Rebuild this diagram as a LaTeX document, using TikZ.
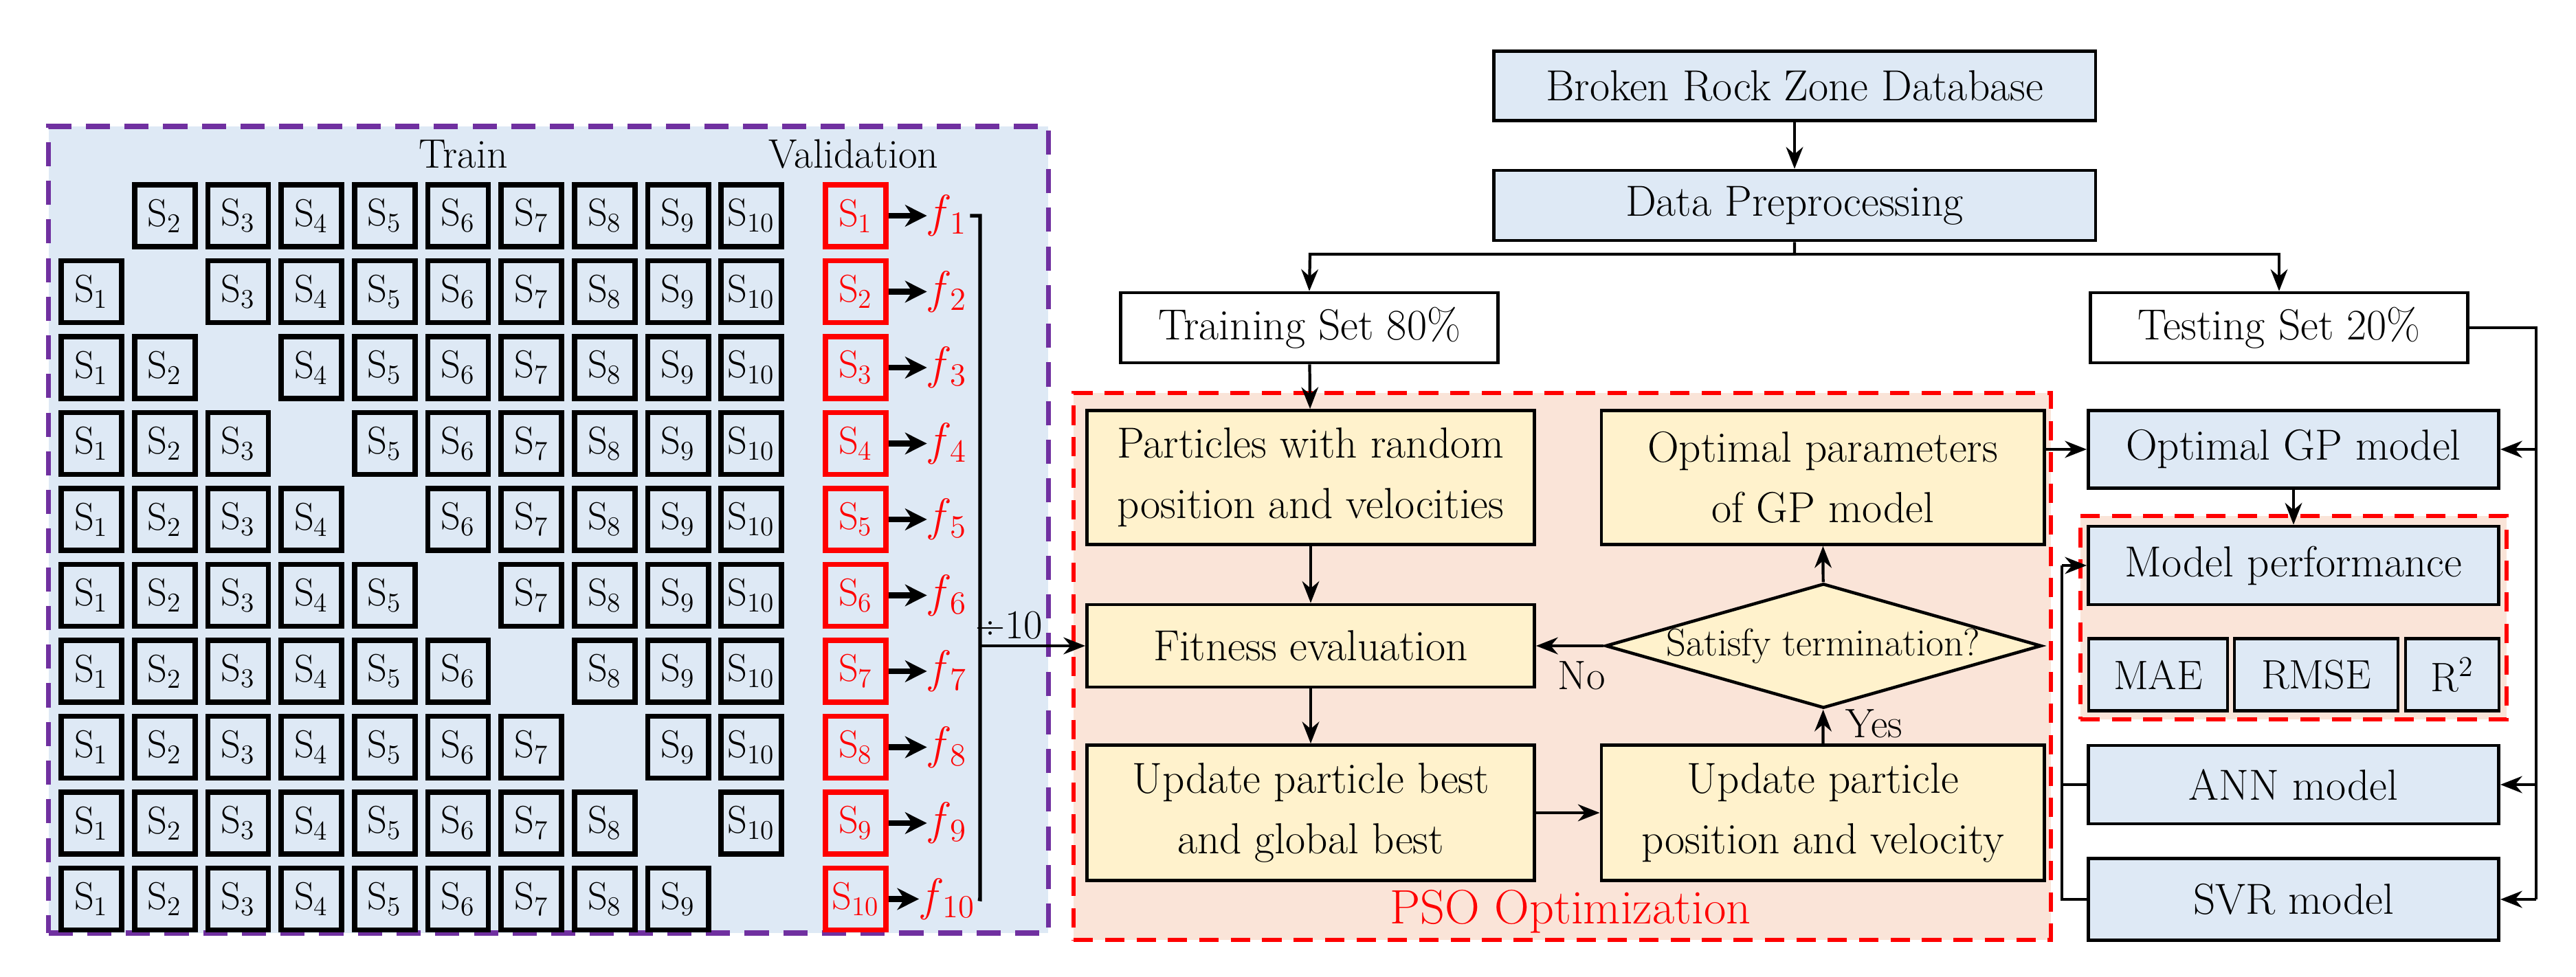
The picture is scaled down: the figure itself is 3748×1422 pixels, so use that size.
\documentclass[tikz,border=0pt]{standalone}
\usepackage{fontspec}
\setmainfont{Latin Modern Roman}
\usetikzlibrary{shapes.geometric,arrows.meta}
\definecolor{lb}{HTML}{DEE9F5}
\definecolor{yl}{HTML}{FFF2CC}
\definecolor{pk}{HTML}{FAE4D8}
\definecolor{pu}{HTML}{7030A0}
\begin{document}
\begin{tikzpicture}[x=0.01cm,y=-0.01cm,
  sb/.style={draw,line width=2.2pt,fill=lb,minimum width=0.88cm,minimum height=0.9cm,inner sep=0pt,font=\fontsize{16}{16}\selectfont},
  rb/.style={sb,draw=red,text=red},
  fl/.style={text=red,font=\fontsize{19}{19}\selectfont,inner sep=1pt},
  bb/.style={draw,line width=1.3pt,fill=lb,inner sep=0pt,font=\fontsize{18}{24}\selectfont,align=center},
  yb/.style={draw,line width=1.3pt,fill=yl,inner sep=0pt,font=\fontsize{18}{25}\selectfont,align=center},
  wb/.style={draw,line width=1.3pt,fill=white,inner sep=0pt,font=\fontsize{18}{24}\selectfont},
  ar/.style={-{Stealth[length=9pt,width=7pt]},line width=1.2pt},
  lbl/.style={font=\fontsize{17}{17}\selectfont}]
\useasboundingbox (0,0) rectangle (3748,1422);
% left panel
\node[draw=pu,dashed,dash pattern=on 10pt off 6pt,line width=2.2pt,fill=lb,minimum width=14.54cm,minimum height=11.74cm,inner sep=0pt] (cv) at (798,771) {};
\node[lbl] (train) at (674,224) {Train};
\node[lbl] (val) at (1242,224) {Validation};
\foreach \r in {1,...,10}{
  \pgfmathsetmacro{\yy}{314+(\r-1)*110.5}
  \foreach \c in {1,...,10}{
    \ifnum\c=\r\relax\else
      \pgfmathsetmacro{\xx}{133+(\c-1)*106.7}
      \node[sb] (s-\r-\c) at (\xx,\yy) {S\textsubscript{\c}};
    \fi
  }
  \node[rb] (v-\r) at (1245,\yy) {S\textsubscript{\r}};
  \node[fl] (f-\r) at (1380,\yy) {\textit{f}\textsubscript{\r}};
  \draw[-{Stealth[length=9pt,width=9pt]},line width=2.4pt] (v-\r) -- (f-\r);
}
\coordinate (vt) at (1426,314);
\coordinate (vb) at (1426,1309);
\coordinate (vm) at (1426,940);
\draw[line width=1.5pt] (f-1.east) -- (vt) -- (vb) -- (f-10.east);
\node[lbl] (d10) at (1468,910) {÷10};
% PSO region
\node[draw=red,dashed,dash pattern=on 8pt off 5pt,line width=1.6pt,fill=pk,minimum width=14.21cm,minimum height=7.95cm,inner sep=0pt] (pso) at (2273,970) {};
\node[text=red,font=\fontsize{20}{20}\selectfont] (psol) at (2285,1327) {PSO Optimization};
% top flow
\node[bb,minimum width=8.75cm,minimum height=1.01cm] (db) at (2611,125) {Broken Rock Zone Database};
\node[bb,minimum width=8.75cm,minimum height=1.02cm] (pre) at (2611,299) {Data Preprocessing};
\node[wb,minimum width=5.49cm,minimum height=1.02cm] (tr) at (1905,477) {Training Set 80\%};
\node[wb,minimum width=5.49cm,minimum height=1.02cm] (te) at (3316,477) {Testing Set 20\%};
\node[yb,minimum width=6.51cm,minimum height=1.95cm] (p1) at (1907,695) {Particles with random\\position and velocities};
\node[yb,minimum width=6.44cm,minimum height=1.95cm] (op) at (2652,695) {Optimal parameters\\of GP model};
\node[yb,minimum width=6.51cm,minimum height=1.2cm] (fit) at (1907,940) {Fitness evaluation};
\node[diamond,draw,line width=1.3pt,fill=yl,aspect=3.5,minimum width=6.27cm,minimum height=1.78cm,inner sep=0pt,font=\fontsize{16}{16}\selectfont] (dm) at (2653,940) {Satisfy termination?};
\node[yb,minimum width=6.51cm,minimum height=1.97cm] (u1) at (1907,1183) {Update particle best\\and global best};
\node[yb,minimum width=6.44cm,minimum height=1.97cm] (u2) at (2652,1183) {Update particle\\position and velocity};
\node[lbl] (no) at (2301,983) {No};
\node[lbl] (yes) at (2727,1053) {Yes};
% right column
\node[draw=red,dashed,dash pattern=on 8pt off 5pt,line width=1.6pt,fill=pk,minimum width=6.2cm,minimum height=2.96cm,inner sep=0pt] (mp) at (3337,899) {};
\node[bb,minimum width=5.97cm,minimum height=1.13cm] (gp) at (3337,654) {Optimal GP model};
\node[bb,minimum width=5.97cm,minimum height=1.14cm] (perf) at (3337,823) {Model performance};
\node[bb,minimum width=2.02cm,minimum height=1.05cm,font=\fontsize{17}{17}\selectfont] (mae) at (3140,982) {MAE};
\node[bb,minimum width=2.38cm,minimum height=1.05cm,font=\fontsize{17}{17}\selectfont] (rmse) at (3370,982) {RMSE};
\node[bb,minimum width=1.36cm,minimum height=1.05cm,font=\fontsize{17}{17}\selectfont] (r2) at (3568,982) {R\textsuperscript{2}};
\node[bb,minimum width=5.97cm,minimum height=1.14cm] (ann) at (3337,1142) {ANN model};
\node[bb,minimum width=5.97cm,minimum height=1.19cm] (svr) at (3337,1309) {SVR model};
% connectors
\draw[ar] (vm) -- (fit.west);
\draw[ar] (db) -- (pre);
\coordinate (sl) at (1906,370);
\coordinate (sr) at (3316,370);
\coordinate (sm) at (2611,370);
\draw[ar] (pre.south) -- (sm) -- (sl) -- (tr.north);
\draw[ar] (sm) -- (sr) -- (te.north);
\draw[ar] (tr) -- (p1);
\draw[ar] (p1) -- (fit);
\draw[ar] (fit) -- (u1);
\draw[ar] (u1) -- (u2);
\draw[ar] (u2) -- (dm);
\draw[ar] (dm) -- (op);
\draw[ar] (dm) -- (fit);
\draw[ar] (op.east |- gp.west) -- (gp.west);
\draw[ar] (gp) -- (perf);
\coordinate (rx) at (3690,477);
\coordinate (rb) at (3690,1309);
\draw[line width=1.2pt] (te.east) -- (rx) -- (rb);
\draw[ar] (3690,654) -- (gp.east);
\draw[ar] (3690,1142) -- (ann.east);
\draw[ar] (rb) -- (svr.east);
\coordinate (lx) at (3000,823);
\coordinate (lb2) at (3000,1309);
\draw[line width=1.2pt] (svr.west) -- (lb2) -- (lx);
\draw[line width=1.2pt] (ann.west) -- (3000,1142);
\draw[ar] (lx) -- (perf.west);
\end{tikzpicture}
\end{document}
